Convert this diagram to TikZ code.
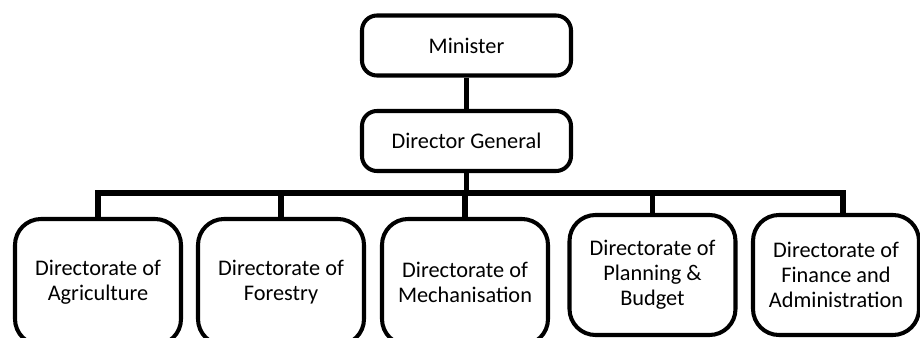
\documentclass[tikz,border=0pt]{standalone}
\usepackage{fontspec}
\setmainfont{Carlito}
\usetikzlibrary{positioning}
\def\pxu{0.02cm}

\begin{document}
\begin{tikzpicture}[
  x=0.02cm, y=-0.02cm,
  font=\fontsize{12.7}{14.3}\selectfont,
  post/.style={draw, line width=2.3pt, rounded corners=15*\pxu, minimum width=209*\pxu, minimum height=60*\pxu, inner sep=0pt, align=center},
  dept/.style={post, rounded corners=26*\pxu, minimum width=166*\pxu},
  link/.style={line width=2.9pt},
]
\useasboundingbox (0,0) rectangle (920,338);
\clip (0,0) rectangle (920,338);
% top of the chart
\node[post] (minister) at (466.5,45.5) {Minister};
\node[post] (dg) at (466.5,141) {Director General};
% directorates
\foreach \n/\x/\y/\h/\txt in {
    agri/98/282/126/{Directorate of\\Agriculture},
    forest/281/282/126/{Directorate of\\Forestry},
    mech/465/282/126/{Directorate of\\Mechanisation},
    plan/652.5/275/120/{Directorate of\\Planning \&\\Budget},
    fin/836/275/120/{Directorate of\\Finance and\\Administration}}
  \node[dept, minimum height=\h*\pxu] (\n) at (\x,\y) {\txt};
% reporting lines
\draw[link] (minister) -- (dg);
\coordinate (bus) at (0,193);
\coordinate (findrop) at ([xshift=4pt]fin.north);
\draw[link] (dg.south) -- (dg.south |- bus);
\draw[link] (agri.north) |- (findrop |- bus) -- (findrop);
\foreach \n in {forest,mech,plan}
  \draw[link] (\n.north) -- (\n.north |- bus);
\end{tikzpicture}
\end{document}
